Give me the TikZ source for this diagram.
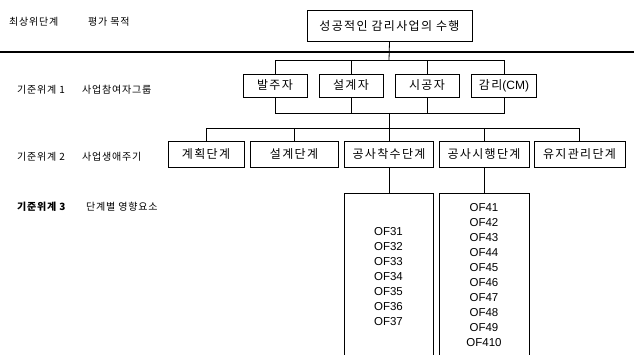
\documentclass[tikz,border=0pt]{standalone}
\usepackage{fontspec}
\setmainfont{Liberation Sans}
\newfontfamily\kr[LetterSpace=11]{Noto Sans CJK KR}
\newfontfamily\krl[LetterSpace=8]{Noto Sans CJK KR}
\begin{document}
\begin{tikzpicture}[x=1pt,y=-1pt,
  box/.style={draw,line width=0.8pt,inner sep=0pt,font=\kr\fontsize{12}{14}\selectfont},
  lvl/.style={anchor=west,inner sep=0pt,font=\krl\fontsize{10}{12}\selectfont},
  ofs/.style={align=center,inner sep=0pt,font=\fontsize{11.5}{15}\selectfont},
  conn/.style={line width=0.8pt}]
\useasboundingbox (0,0) rectangle (634,355);
% left labels
\node[lvl] (l0a) at (9,22) {최상위단계};
\node[lvl] (l0b) at (88,22) {평가 목적};
\node[lvl] (l1a) at (17,90) {기준위계 1};
\node[lvl] (l1b) at (82,90) {사업참여자그룹};
\node[lvl] (l2a) at (17,157) {기준위계 2};
\node[lvl] (l2b) at (82,157) {사업생애주기};
\node[lvl] (l3a) at (17,207) {\textbf{기준위계 3}};
\node[lvl] (l3b) at (86,207) {단계별 영향요소};
% thick rule
\coordinate (rl) at (0,52);
\coordinate (rr) at (634,52);
\draw[line width=2pt] (rl) -- (rr);
% top
\node[box,minimum width=165,minimum height=31] (top) at (389.5,26) {성공적인 감리사업의 수행};
% level 1
\node[box,minimum width=64,minimum height=23] (a1) at (275,85.5) {발주자};
\node[box,minimum width=64,minimum height=23] (a2) at (351,85.5) {설계자};
\node[box,minimum width=64,minimum height=23] (a3) at (427,85.5) {시공자};
\node[box,minimum width=65,minimum height=23] (a4) at (504,85.5) {감리{\rmfamily\fontsize{12}{14}\selectfont(CM)}};
% level 2
\node[box,minimum width=76,minimum height=26] (b1) at (206,154) {계획단계};
\node[box,minimum width=88,minimum height=26] (b2) at (294,154) {설계단계};
\node[box,minimum width=89,minimum height=26] (b3) at (389,154) {공사착수단계};
\node[box,minimum width=90,minimum height=26] (b4) at (484,154) {공사시행단계};
\node[box,minimum width=91,minimum height=26] (b5) at (579.5,154) {유지관리단계};
% buses
\coordinate (bus1) at (389,60);
\coordinate (bus2) at (389,113);
\coordinate (bus3) at (389,128);
\draw[conn] (top.south) -- (bus1);
\foreach \n in {a1,a2,a3,a4} {\draw[conn] (\n.north) |- (bus1);}
\foreach \n in {a1,a2,a3,a4} {\draw[conn] (\n.south) |- (bus2);}
\draw[conn] (bus2) -- (bus3);
\foreach \n in {b1,b2,b4,b5} {\draw[conn] (\n.north) |- (bus3);}
\draw[conn] (b3.north) -- (bus3);
% level 3 boxes (open at bottom)
\coordinate (c3) at (389,193);
\coordinate (c4) at (484,193);
\draw[conn] (344,356) -- (344,193) -- (433,193) -- (433,356);
\draw[conn] (439,356) -- (439,193) -- (529,193) -- (529,356);
\draw[conn] (b3.south) -- (c3);
\draw[conn] (b4.south) -- (c4);
\node[ofs] (o3) at (388.5,277) {OF31\\OF32\\OF33\\OF34\\OF35\\OF36\\OF37};
\node[ofs] (o4) at (484,275.5) {OF41\\OF42\\OF43\\OF44\\OF45\\OF46\\OF47\\OF48\\OF49\\OF410};
\end{tikzpicture}
\end{document}
